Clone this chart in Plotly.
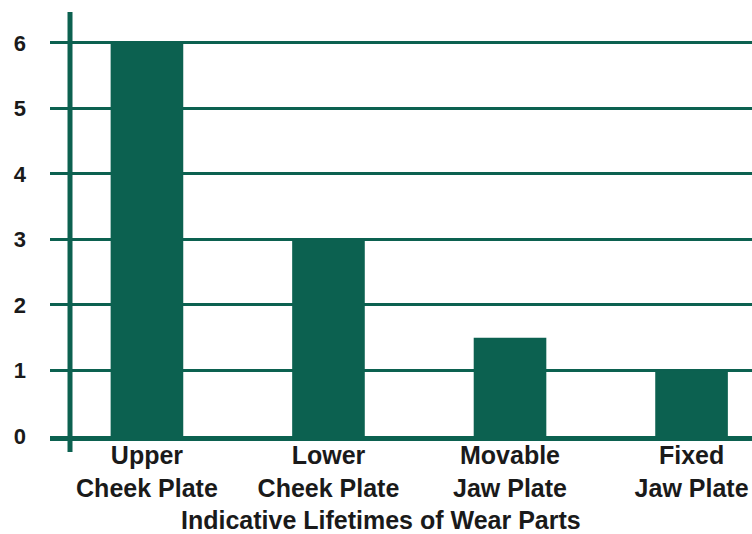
import plotly.graph_objects as go

categories = ["Upper<br>Cheek Plate", "Lower<br>Cheek Plate", "Movable<br>Jaw Plate", "Fixed<br>Jaw Plate"]
lifetimes = [6, 3, 1.5, 1]
y_ticks = [0, 1, 2, 3, 4, 5, 6]
x_title = "Indicative Lifetimes of Wear Parts"

GREEN = "#0c6150"
FONT = "Liberation Sans, Arial, sans-serif"
TXT = "#1a1a1a"

positions = list(range(len(categories)))

fig = go.Figure(
    go.Bar(
        x=positions,
        y=lifetimes,
        width=0.4,
        marker=dict(color=GREEN, line=dict(width=0)),
        hoverinfo="skip",
    )
)

fig.update_layout(
    width=752,
    height=534,
    margin=dict(l=50, r=0, t=12, b=98),
    plot_bgcolor="white",
    paper_bgcolor="white",
    showlegend=False,
    font=dict(family=FONT, size=25, color=TXT),
    xaxis=dict(
        range=[-0.534, 3.333],
        tickmode="array",
        tickvals=positions,
        ticktext=categories,
        showgrid=False,
        zeroline=False,
        showline=True,
        linecolor=GREEN,
        linewidth=5,
        ticks="",
        automargin=False,
        ticklabelstandoff=-7,
        tickfont=dict(family=FONT, size=25, color=TXT, weight="bold"),
    ),
    yaxis=dict(
        range=[0, 6.47],
        tickmode="array",
        tickvals=y_ticks,
        showgrid=True,
        gridcolor=GREEN,
        gridwidth=2.5,
        zeroline=False,
        showline=False,
        ticks="",
        automargin=False,
        ticklabelstandoff=23,
        tickfont=dict(family=FONT, size=22, color=TXT, weight="bold"),
    ),
    annotations=[
        dict(
            text=x_title,
            xref="paper",
            yref="paper",
            x=0.4715,
            y=-0.198,
            xanchor="center",
            yanchor="middle",
            showarrow=False,
            font=dict(family=FONT, size=25, color=TXT, weight="bold"),
        )
    ],
    shapes=[
        dict(
            type="line",
            xref="paper",
            yref="paper",
            x0=0.0285,
            x1=0.0285,
            y0=-0.0377,
            y1=1.0,
            line=dict(color=GREEN, width=5),
            layer="above",
        )
    ],
)

fig.write_html(
    "out.html",
    config={"displayModeBar": False},
    post_script="document.body.style.margin='0';document.body.style.overflow='hidden';",
)
